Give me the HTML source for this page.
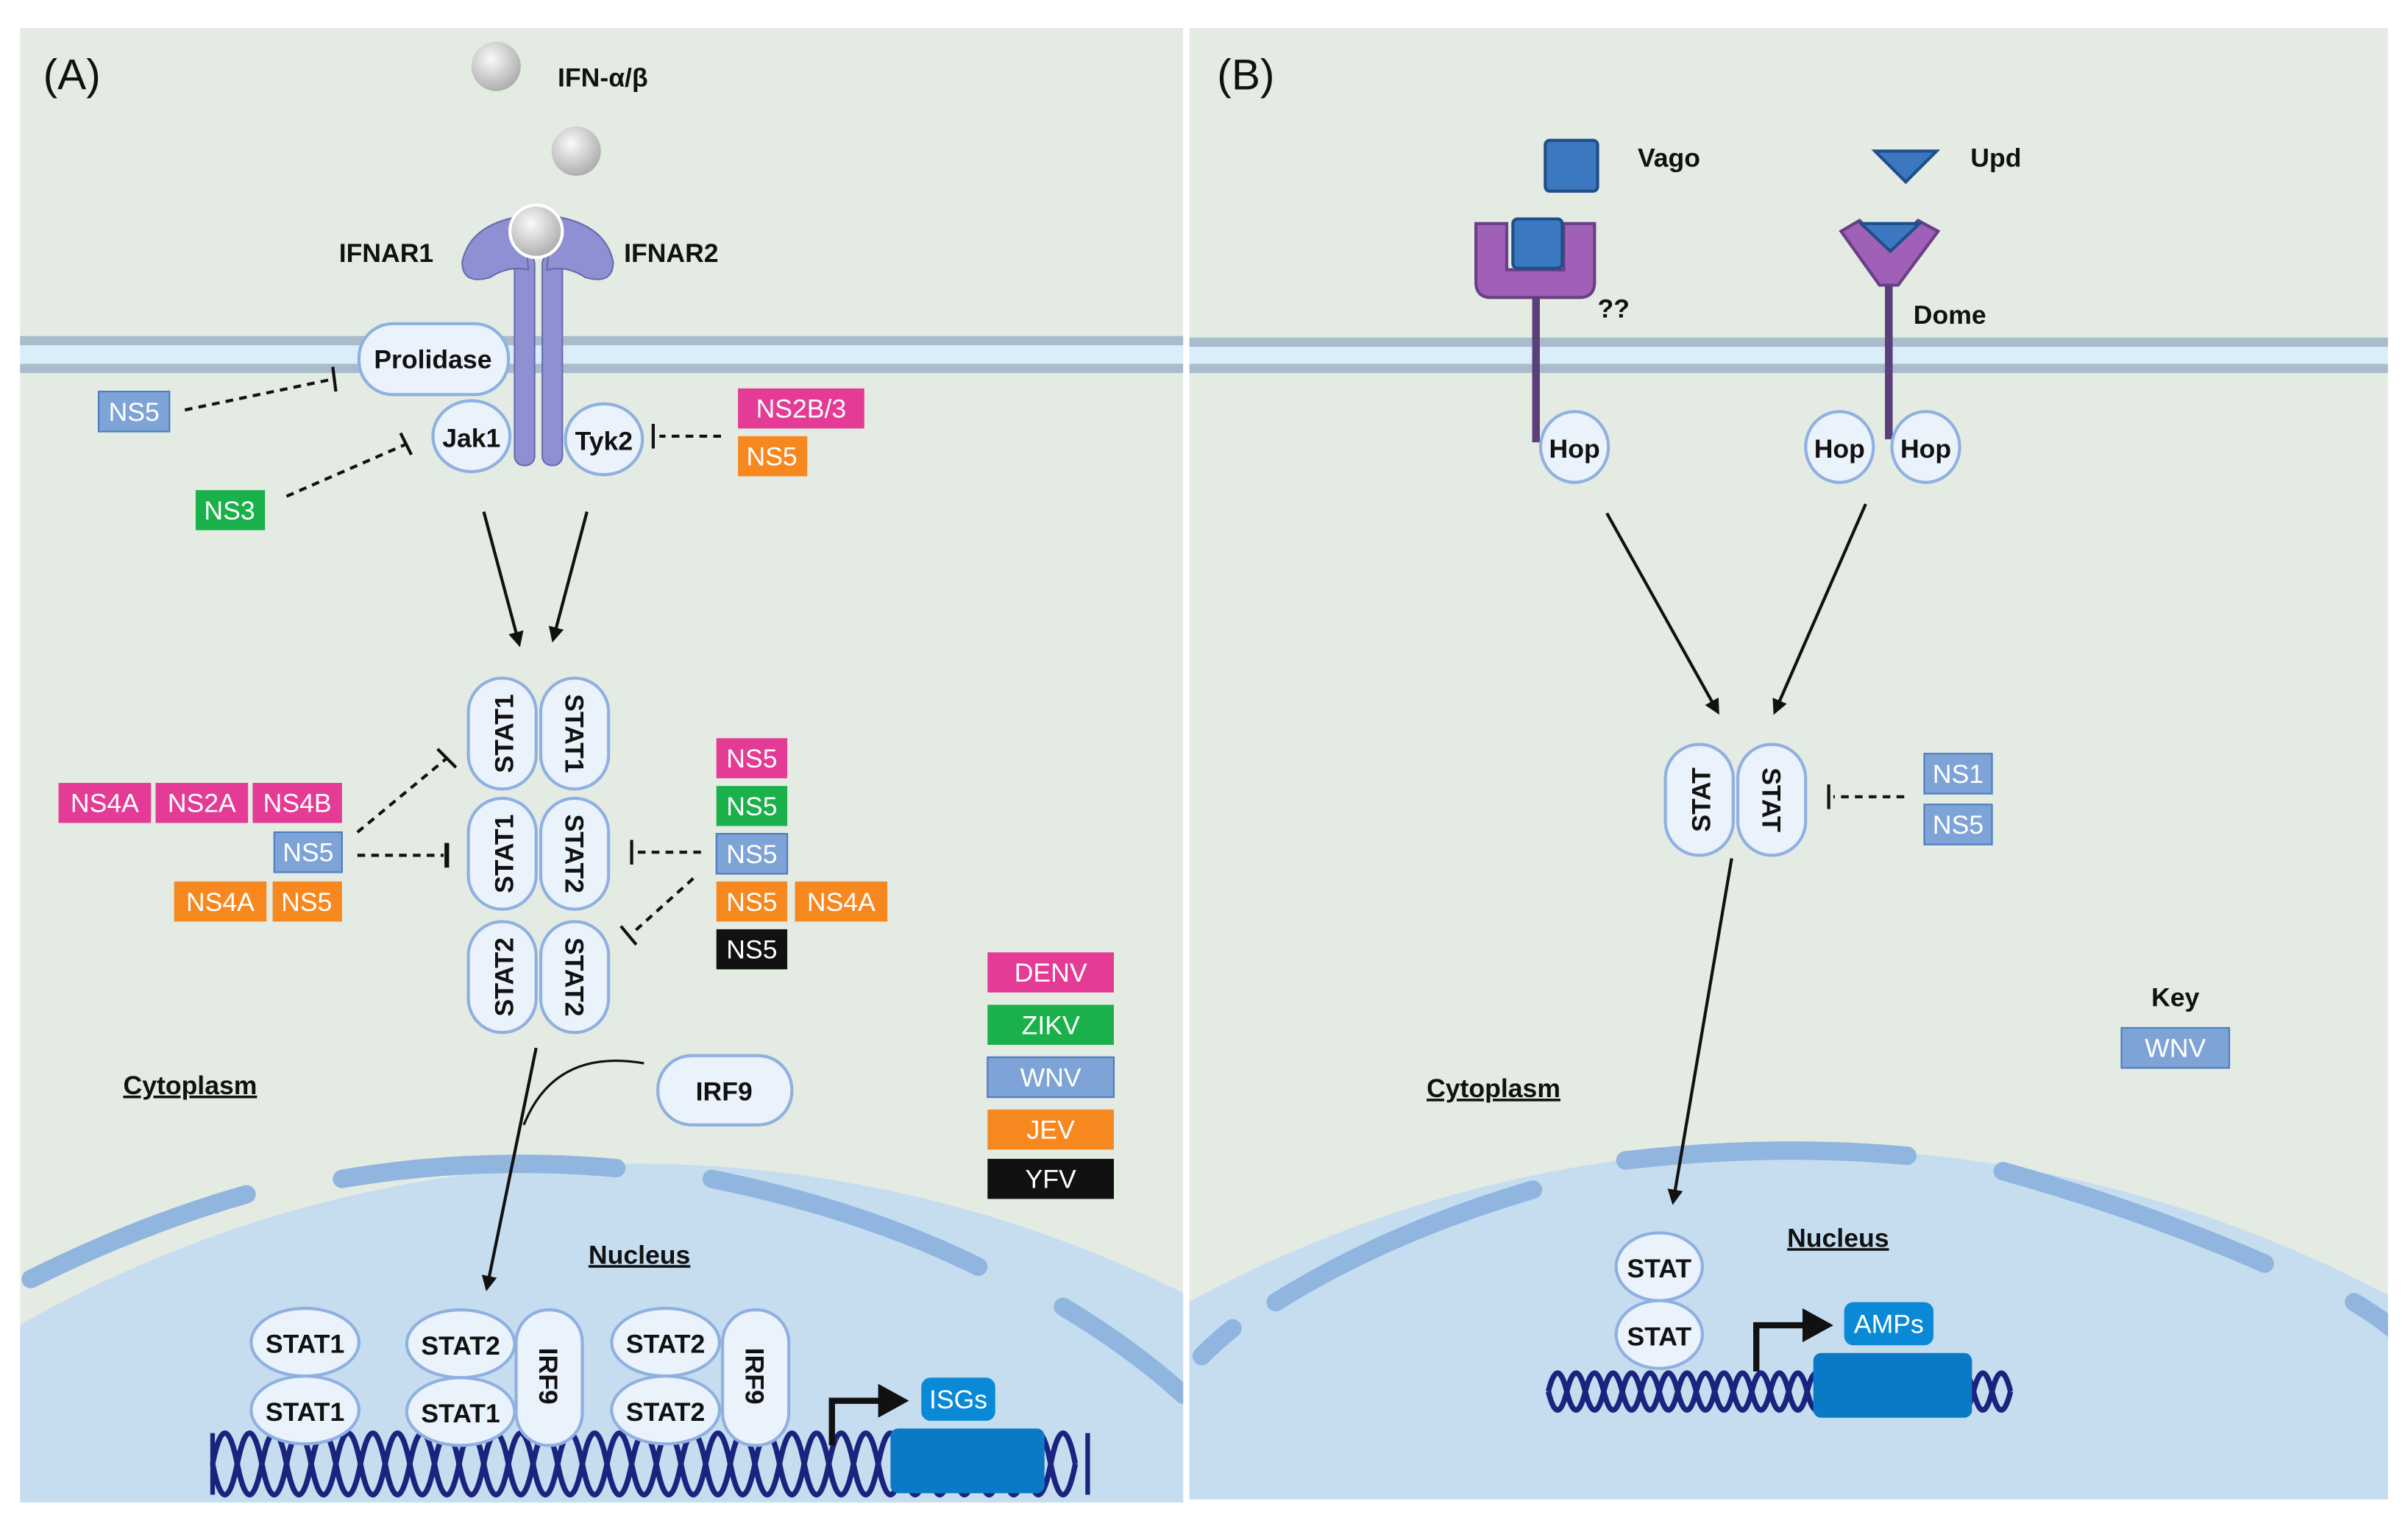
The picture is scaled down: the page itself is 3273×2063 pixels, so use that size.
<!DOCTYPE html>
<html><head><meta charset="utf-8"><style>
html,body{margin:0;padding:0;background:#fff;width:3273px;height:2063px;overflow:hidden;}
svg{display:block;}
text{font-family:"Liberation Sans",sans-serif;}
.b{font-weight:bold;font-size:17px;fill:#111;}
.t{font-size:17px;fill:#fff;}
.pill{fill:#eaf2fb;stroke:#8fb0e0;stroke-width:2;}
.dash{stroke:#111;stroke-width:2;stroke-dasharray:5,4;fill:none;}
.ar{stroke:#111;stroke-width:2;fill:none;marker-end:url(#ah);}
.env{fill:none;stroke:#90b6e0;stroke-width:12;stroke-linecap:round;}
.dna{fill:none;stroke:#1a237e;stroke-width:3.5;}
</style></head><body>
<svg width="3273" height="2063" viewBox="0 0 1563 985" xmlns="http://www.w3.org/2000/svg">
<defs>
<marker id="ah" markerWidth="10" markerHeight="10" refX="8" refY="5" orient="auto" markerUnits="userSpaceOnUse"><path d="M0,0 L10,5 L0,10 z" fill="#111"/></marker>
<radialGradient id="ball" cx="0.4" cy="0.35" r="0.7"><stop offset="0" stop-color="#fafafa"/><stop offset="1" stop-color="#a9a9a9"/></radialGradient>
<clipPath id="cA"><rect x="13" y="18" width="755" height="957"/></clipPath>
<clipPath id="cB"><rect x="772" y="18" width="778" height="955"/></clipPath>
</defs>
<rect width="1563" height="985" fill="#fff"/>
<g clip-path="url(#cA)">
<rect x="13" y="18" width="755" height="957" fill="#e4ebe2"/>
<circle cx="410" cy="1560" r="805" fill="#c6ddf0"/>
<path class="env" d="M20,830 Q90,795 160,775"/>
<path class="env" d="M222,765 Q310,750 400,758"/>
<path class="env" d="M462,765 Q560,785 635,822"/>
<path class="env" d="M690,848 Q735,875 768,905"/>
<rect x="13" y="218" width="755" height="24" fill="#dcedfa"/>
<rect x="13" y="218" width="755" height="6" fill="#a9bccb"/>
<rect x="13" y="236" width="755" height="6" fill="#a9bccb"/>
</g>
<g clip-path="url(#cB)">
<rect x="772" y="18" width="778" height="955" fill="#e4ebe2"/>
<circle cx="1165" cy="1570" r="825" fill="#c6ddf0"/>
<path class="env" d="M780,880 Q790,870 800,862"/>
<path class="env" d="M828,845 Q900,800 995,772"/>
<path class="env" d="M1055,753 Q1150,742 1238,750"/>
<path class="env" d="M1300,760 Q1390,785 1470,820"/>
<path class="env" d="M1528,845 Q1545,855 1556,865"/>
<rect x="772" y="220" width="778" height="22" fill="#dcedfa"/>
<rect x="772" y="219" width="778" height="6" fill="#a9bccb"/>
<rect x="772" y="236" width="778" height="6" fill="#a9bccb"/>
</g>

<text x="28" y="58" font-size="28" fill="#111">(A)</text>
<circle cx="322" cy="43" r="16" fill="url(#ball)"/>
<circle cx="374" cy="98" r="16" fill="url(#ball)"/>
<text class="b" x="362" y="56">IFN-α/β</text>
<text class="b" x="220" y="170">IFNAR1</text>
<text class="b" x="405" y="170">IFNAR2</text>
<rect x="334" y="165" width="13" height="137" rx="6" fill="#8f8fd3" stroke="#6a6ab0"/>
<rect x="352" y="165" width="13" height="137" rx="6" fill="#8f8fd3" stroke="#6a6ab0"/>
<path d="M340,140 Q305,145 300,170 Q300,185 318,180 Q330,172 343,175 Z" fill="#8f8fd3" stroke="#6a6ab0"/>
<path d="M358,140 Q393,145 398,170 Q398,185 380,180 Q368,172 355,175 Z" fill="#8f8fd3" stroke="#6a6ab0"/>
<circle cx="348" cy="150" r="17" fill="url(#ball)" stroke="#fff" stroke-width="2"/>
<rect class="pill" x="233" y="210" width="97" height="46" rx="22"/>
<text class="b" x="281" y="239" text-anchor="middle">Prolidase</text>
<ellipse class="pill" cx="306" cy="283" rx="25" ry="23"/>
<text class="b" x="306" y="290" text-anchor="middle">Jak1</text>
<ellipse class="pill" cx="392" cy="285" rx="25" ry="23"/>
<text class="b" x="392" y="292" text-anchor="middle">Tyk2</text>

<rect x="64" y="254" width="46" height="26" fill="#7ea3d6" stroke="#4a7cc0"/><text class="t" x="87" y="273" text-anchor="middle">NS5</text>
<path class="dash" d="M120,266 L216,246"/><path d="M216,238 L218,254" stroke="#111" stroke-width="2"/>
<rect x="127" y="318" width="45" height="26" fill="#1ab14b"/><text class="t" x="149" y="337" text-anchor="middle">NS3</text>
<path class="dash" d="M186,322 L264,288"/><path d="M260,281 L267,295" stroke="#111" stroke-width="2"/>
<rect x="479" y="252" width="82" height="26" fill="#e43b96"/><text class="t" x="520" y="271" text-anchor="middle">NS2B/3</text>
<rect x="479" y="283" width="45" height="26" fill="#f7881f"/><text class="t" x="501" y="302" text-anchor="middle">NS5</text>
<path class="dash" d="M468,283 L428,283"/><path d="M424,275 L424,291" stroke="#111" stroke-width="2"/>

<path class="ar" d="M314,332 L337,418"/>
<path class="ar" d="M381,332 L359,415"/>

<g>
<rect class="pill" x="304" y="440" width="44" height="72" rx="22"/><rect class="pill" x="351" y="440" width="44" height="72" rx="22"/>
<text class="b" transform="translate(333,476) rotate(-90)" text-anchor="middle">STAT1</text>
<text class="b" transform="translate(367,476) rotate(90)" text-anchor="middle">STAT1</text>
<rect class="pill" x="304" y="518" width="44" height="72" rx="22"/><rect class="pill" x="351" y="518" width="44" height="72" rx="22"/>
<text class="b" transform="translate(333,554) rotate(-90)" text-anchor="middle">STAT1</text>
<text class="b" transform="translate(367,554) rotate(90)" text-anchor="middle">STAT2</text>
<rect class="pill" x="304" y="598" width="44" height="72" rx="22"/><rect class="pill" x="351" y="598" width="44" height="72" rx="22"/>
<text class="b" transform="translate(333,634) rotate(-90)" text-anchor="middle">STAT2</text>
<text class="b" transform="translate(367,634) rotate(90)" text-anchor="middle">STAT2</text>
</g>
<rect x="38" y="508" width="60" height="26" fill="#e43b96"/><text class="t" x="68" y="527" text-anchor="middle">NS4A</text>
<rect x="101" y="508" width="60" height="26" fill="#e43b96"/><text class="t" x="131" y="527" text-anchor="middle">NS2A</text>
<rect x="164" y="508" width="58" height="26" fill="#e43b96"/><text class="t" x="193" y="527" text-anchor="middle">NS4B</text>
<rect x="178" y="540" width="44" height="26" fill="#7ea3d6" stroke="#4a7cc0"/><text class="t" x="200" y="559" text-anchor="middle">NS5</text>
<rect x="113" y="572" width="60" height="26" fill="#f7881f"/><text class="t" x="143" y="591" text-anchor="middle">NS4A</text>
<rect x="177" y="572" width="45" height="26" fill="#f7881f"/><text class="t" x="199" y="591" text-anchor="middle">NS5</text>
<path class="dash" d="M232,540 L290,492"/><path d="M284,486 L296,498" stroke="#111" stroke-width="2"/>
<path class="dash" d="M232,555 L288,555"/><path d="M290,547 L290,563" stroke="#111" stroke-width="3"/>

<rect x="465" y="479" width="46" height="26" fill="#e43b96"/><text class="t" x="488" y="498" text-anchor="middle">NS5</text>
<rect x="465" y="510" width="46" height="26" fill="#1ab14b"/><text class="t" x="488" y="529" text-anchor="middle">NS5</text>
<rect x="465" y="541" width="46" height="26" fill="#7ea3d6" stroke="#4a7cc0"/><text class="t" x="488" y="560" text-anchor="middle">NS5</text>
<rect x="465" y="572" width="46" height="26" fill="#f7881f"/><text class="t" x="488" y="591" text-anchor="middle">NS5</text>
<rect x="516" y="572" width="60" height="26" fill="#f7881f"/><text class="t" x="546" y="591" text-anchor="middle">NS4A</text>
<rect x="465" y="603" width="46" height="26" fill="#111"/><text class="t" x="488" y="622" text-anchor="middle">NS5</text>
<path class="dash" d="M455,553 L413,553"/><path d="M410,545 L410,561" stroke="#111" stroke-width="2"/>
<path class="dash" d="M450,570 L410,606"/><path d="M403,601 L413,613" stroke="#111" stroke-width="2"/>

<rect x="641" y="618" width="82" height="26" fill="#e43b96"/><text class="t" x="682" y="637" text-anchor="middle">DENV</text>
<rect x="641" y="652" width="82" height="26" fill="#1ab14b"/><text class="t" x="682" y="671" text-anchor="middle">ZIKV</text>
<rect x="641" y="686" width="82" height="26" fill="#7ea3d6" stroke="#4a7cc0"/><text class="t" x="682" y="705" text-anchor="middle">WNV</text>
<rect x="641" y="720" width="82" height="26" fill="#f7881f"/><text class="t" x="682" y="739" text-anchor="middle">JEV</text>
<rect x="641" y="752" width="82" height="26" fill="#111"/><text class="t" x="682" y="771" text-anchor="middle">YFV</text>

<text class="b" x="80" y="710" text-decoration="underline">Cytoplasm</text>
<rect class="pill" x="427" y="685" width="87" height="45" rx="22"/>
<text class="b" x="470" y="714" text-anchor="middle">IRF9</text>
<path d="M418,690 Q360,680 340,730" stroke="#111" stroke-width="1.5" fill="none"/>
<path class="ar" d="M348,680 L316,836"/>
<text class="b" x="382" y="820" text-decoration="underline">Nucleus</text>

<path class="dna" d="M138,950 Q146,910 154,950 T170,950 T186,950 T202,950 T218,950 T234,950 T250,950 T266,950 T282,950 T298,950 T314,950 T330,950 T346,950 T362,950 T378,950 T394,950 T410,950 T426,950 T442,950 T458,950 T474,950 T490,950 T506,950 T522,950 T538,950 T554,950 T570,950 T586,950 T602,950 T618,950 T634,950 T650,950 T666,950 T682,950 T698,950"/>
<path class="dna" d="M138,950 Q146,990 154,950 T170,950 T186,950 T202,950 T218,950 T234,950 T250,950 T266,950 T282,950 T298,950 T314,950 T330,950 T346,950 T362,950 T378,950 T394,950 T410,950 T426,950 T442,950 T458,950 T474,950 T490,950 T506,950 T522,950 T538,950 T554,950 T570,950 T586,950 T602,950 T618,950 T634,950 T650,950 T666,950 T682,950 T698,950"/>
<path d="M138,930 L138,970 M706,930 L706,970" stroke="#1a237e" stroke-width="3"/>
<rect x="578" y="927" width="100" height="42" rx="5" fill="#0a7ac6"/>
<rect x="598" y="894" width="48" height="28" rx="6" fill="#0a8ad6"/><text class="t" x="622" y="914" text-anchor="middle">ISGs</text>
<path d="M540,938 L540,909 L572,909" stroke="#111" stroke-width="4" fill="none"/><path d="M570,898 L590,909 L570,920 z" fill="#111"/>

<ellipse class="pill" cx="198" cy="871" rx="35" ry="22"/><text class="b" x="198" y="878" text-anchor="middle">STAT1</text>
<ellipse class="pill" cx="198" cy="915" rx="35" ry="22"/><text class="b" x="198" y="922" text-anchor="middle">STAT1</text>
<ellipse class="pill" cx="299" cy="872" rx="35" ry="22"/><text class="b" x="299" y="879" text-anchor="middle">STAT2</text>
<ellipse class="pill" cx="299" cy="916" rx="35" ry="22"/><text class="b" x="299" y="923" text-anchor="middle">STAT1</text>
<rect class="pill" x="335" y="850" width="43" height="88" rx="21"/><text class="b" transform="translate(350,893) rotate(90)" text-anchor="middle">IRF9</text>
<ellipse class="pill" cx="432" cy="871" rx="35" ry="22"/><text class="b" x="432" y="878" text-anchor="middle">STAT2</text>
<ellipse class="pill" cx="432" cy="915" rx="35" ry="22"/><text class="b" x="432" y="922" text-anchor="middle">STAT2</text>
<rect class="pill" x="469" y="850" width="43" height="88" rx="21"/><text class="b" transform="translate(484,893) rotate(90)" text-anchor="middle">IRF9</text>

<text x="790" y="58" font-size="28" fill="#111">(B)</text>
<rect x="1003" y="91" width="34" height="33" rx="3" fill="#3c78c0" stroke="#1f4f8a" stroke-width="2"/>
<text class="b" x="1063" y="108">Vago</text>
<path d="M1217,98 L1257,98 L1237,118 Z" fill="#3c78c0" stroke="#1f4f8a" stroke-width="2"/>
<text class="b" x="1279" y="108">Upd</text>
<path d="M958,145 L978,145 L978,175 L1015,175 L1015,145 L1035,145 L1035,183 Q1035,193 1025,193 L968,193 Q958,193 958,183 Z" fill="#a060b8" stroke="#6a3f86" stroke-width="2"/>
<rect x="982" y="142" width="32" height="32" rx="3" fill="#3c78c0" stroke="#1f4f8a" stroke-width="2"/>
<line x1="997" y1="193" x2="997" y2="287" stroke="#5a3f7a" stroke-width="5"/>
<text class="b" x="1037" y="206">??</text>
<path d="M1195,150 L1207,143 L1226,162 L1245,143 L1258,150 L1232,185 L1220,185 Z" fill="#a060b8" stroke="#6a3f86" stroke-width="2"/>
<path d="M1208,145 L1246,145 L1227,163 Z" fill="#3c78c0" stroke="#1f4f8a" stroke-width="2"/>
<line x1="1226" y1="185" x2="1226" y2="285" stroke="#5a3f7a" stroke-width="5"/>
<text class="b" x="1242" y="210">Dome</text>
<ellipse class="pill" cx="1022" cy="290" rx="22" ry="23"/><text class="b" x="1022" y="297" text-anchor="middle">Hop</text>
<ellipse class="pill" cx="1194" cy="290" rx="22" ry="23"/><text class="b" x="1194" y="297" text-anchor="middle">Hop</text>
<ellipse class="pill" cx="1250" cy="290" rx="22" ry="23"/><text class="b" x="1250" y="297" text-anchor="middle">Hop</text>
<path class="ar" d="M1043,333 L1115,462"/>
<path class="ar" d="M1211,327 L1152,462"/>
<rect class="pill" x="1081" y="483" width="44" height="72" rx="22"/><rect class="pill" x="1128" y="483" width="44" height="72" rx="22"/>
<text class="b" transform="translate(1110,519) rotate(-90)" text-anchor="middle">STAT</text>
<text class="b" transform="translate(1144,519) rotate(90)" text-anchor="middle">STAT</text>
<path class="dash" d="M1236,517 L1190,517"/><path d="M1187,509 L1187,525" stroke="#111" stroke-width="2"/>
<rect x="1249" y="489" width="44" height="26" fill="#7ea3d6" stroke="#4a7cc0"/><text class="t" x="1271" y="508" text-anchor="middle">NS1</text>
<rect x="1249" y="522" width="44" height="26" fill="#7ea3d6" stroke="#4a7cc0"/><text class="t" x="1271" y="541" text-anchor="middle">NS5</text>
<text class="b" x="1412" y="653" text-anchor="middle">Key</text>
<rect x="1377" y="667" width="70" height="26" fill="#7ea3d6" stroke="#4a7cc0"/><text class="t" x="1412" y="686" text-anchor="middle">WNV</text>
<text class="b" x="926" y="712" text-decoration="underline">Cytoplasm</text>
<path class="ar" d="M1124,557 L1086,780"/>
<text class="b" x="1160" y="809" text-decoration="underline">Nucleus</text>
<path class="dna" d="M1005,903 Q1011,879 1017,903 T1029,903 T1041,903 T1053,903 T1065,903 T1077,903 T1089,903 T1101,903 T1113,903 T1125,903 T1137,903 T1149,903 T1161,903 T1173,903 T1185,903 T1197,903 T1209,903 T1221,903 T1233,903 T1245,903 T1257,903 T1269,903 T1281,903 T1293,903 T1305,903"/>
<path class="dna" d="M1005,903 Q1011,927 1017,903 T1029,903 T1041,903 T1053,903 T1065,903 T1077,903 T1089,903 T1101,903 T1113,903 T1125,903 T1137,903 T1149,903 T1161,903 T1173,903 T1185,903 T1197,903 T1209,903 T1221,903 T1233,903 T1245,903 T1257,903 T1269,903 T1281,903 T1293,903 T1305,903"/>
<rect x="1177" y="878" width="103" height="42" rx="5" fill="#0a7ac6"/>
<rect x="1197" y="845" width="58" height="28" rx="6" fill="#0a8ad6"/><text class="t" x="1226" y="865" text-anchor="middle">AMPs</text>
<path d="M1140,890 L1140,860 L1172,860" stroke="#111" stroke-width="4" fill="none"/><path d="M1170,849 L1190,860 L1170,871 z" fill="#111"/>
<ellipse class="pill" cx="1077" cy="822" rx="28" ry="22"/><text class="b" x="1077" y="829" text-anchor="middle">STAT</text>
<ellipse class="pill" cx="1077" cy="866" rx="28" ry="22"/><text class="b" x="1077" y="873" text-anchor="middle">STAT</text>
</svg>
</body></html>
